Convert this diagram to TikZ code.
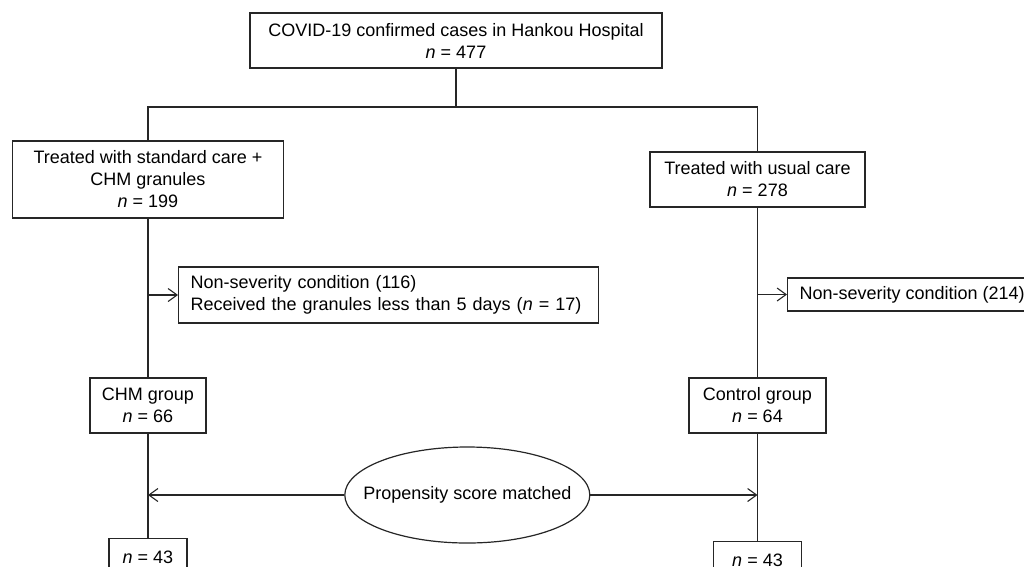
\documentclass[tikz,border=0pt]{standalone}
\usepackage{fontspec}
\setmainfont{Liberation Sans}
\usetikzlibrary{arrows.meta,shapes.geometric}
\begin{document}
\begin{tikzpicture}[x=1pt,y=-1pt,
  every node/.style={font=\fontsize{18}{22}\selectfont},
  box/.style={draw=black!85,line width=1.2pt,rectangle,inner sep=0pt,align=center},
  ln/.style={draw=black!85,line width=1.2pt},
  arr/.style={ln,-{Straight Barb[length=9pt,width=13pt,line width=1.1pt]}}]
\useasboundingbox (0,0) rectangle (1024,566);
\fill[white] (0,0) rectangle (1024,566);
\clip (0,0) rectangle (1024,566);
% boxes
\node[box,minimum width=412pt,minimum height=55pt] (top) at (456,40.5)
  {COVID-19 confirmed cases in Hankou Hospital\\\textit{n} = 477};
\node[box,minimum width=271pt,minimum height=77pt] (L) at (148,179.5)
  {Treated with standard care +\\CHM granules\\\textit{n} = 199};
\node[box,minimum width=215pt,minimum height=55pt] (R) at (757.5,179.5)
  {Treated with usual care\\\textit{n} = 278};
\node[box,anchor=west,minimum height=56pt,text width=396pt,align=left,inner xsep=12pt] (EX1) at (178,295)
  {Non-severity condition (116)\\Received the granules less than 5 days (\textit{n} = 17)};
\node[box,anchor=west,minimum height=33pt,inner xsep=12pt] (EX2) at (787,294.5)
  {Non-severity condition (214)};
\node[box,minimum width=116pt,minimum height=55pt] (CHM) at (148,405.5)
  {CHM group\\\textit{n} = 66};
\node[box,minimum width=137pt,minimum height=55pt] (CTL) at (757.5,405.5)
  {Control group\\\textit{n} = 64};
\node[draw=black!85,line width=1.2pt,ellipse,minimum width=245pt,minimum height=96pt,inner sep=0pt] (PS) at (467.3,495)
  {\makebox[0pt]{Propensity score matched}};
\node[box,anchor=north,minimum width=78pt,minimum height=38pt] (B1) at (148,538)
  {\textit{n} = 43};
\node[box,anchor=north,minimum width=88pt,minimum height=38pt] (B2) at (757.5,541)
  {\textit{n} = 43};
% connectors
\coordinate (sp) at (456,107);
\draw[ln] (top.south) -- (sp);
\draw[ln] (L.north) |- (sp) -| (R.north);
\draw[ln] (L.south) -- (CHM.north);
\draw[ln] (R.south) -- (CTL.north);
\draw[arr] (L.south |- EX1.west) -- (EX1.west);
\draw[arr] (R.south |- EX2.west) -- (EX2.west);
\draw[ln] (CHM.south) -- (B1.north);
\draw[ln] (CTL.south) -- (B2.north);
\draw[arr] (PS.west) -- (PS.west -| CHM.south);
\draw[arr] (PS.east) -- (PS.east -| CTL.south);
\end{tikzpicture}
\end{document}
